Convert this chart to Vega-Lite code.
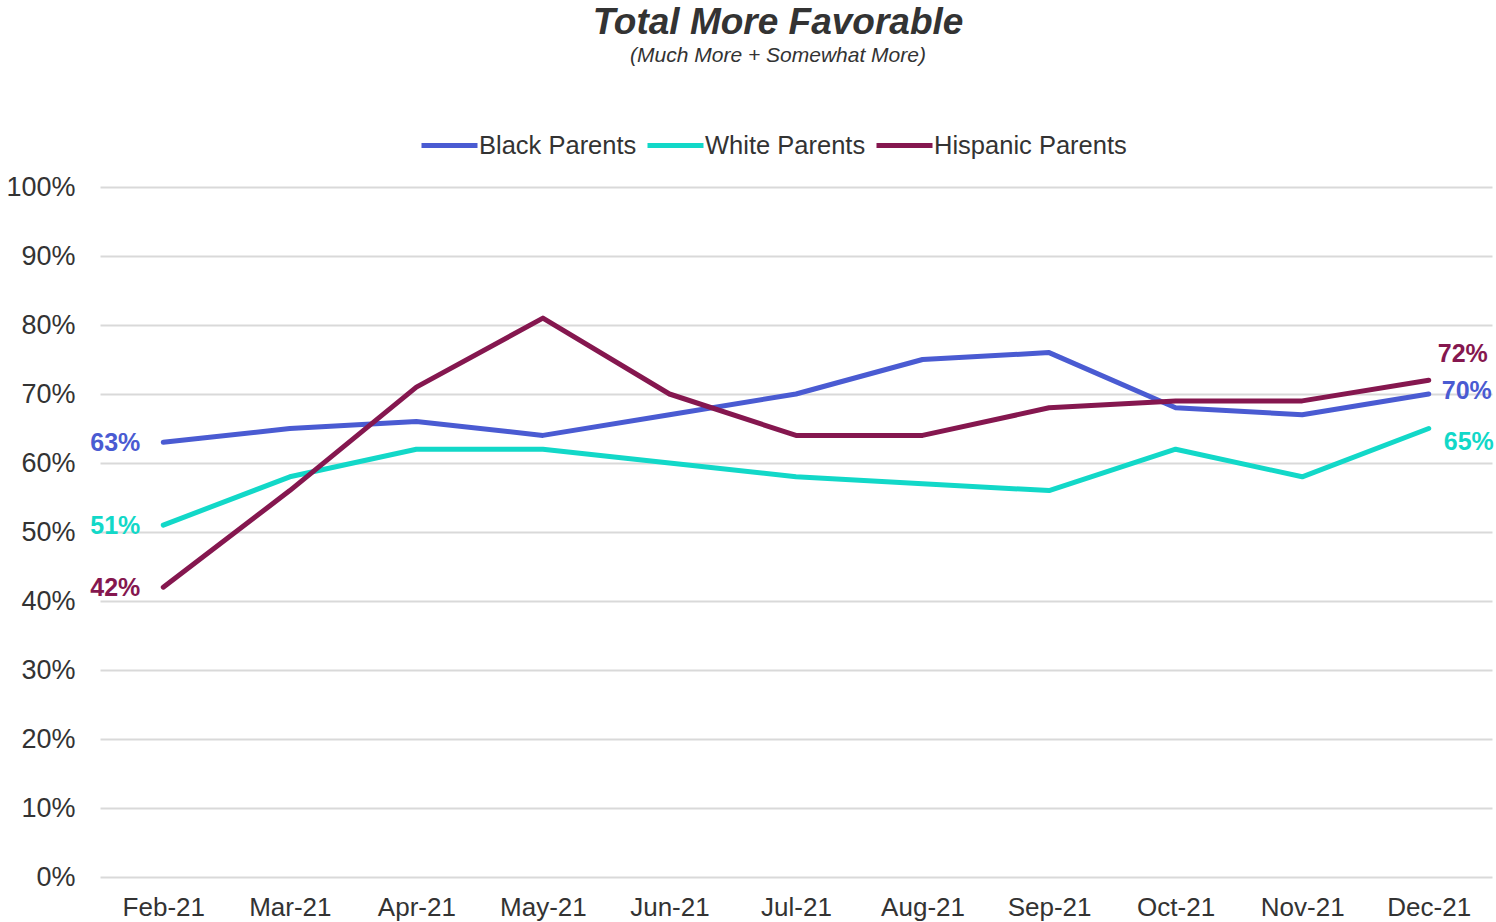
{
  "$schema": "https://vega.github.io/schema/vega-lite/v6.json",
  "width": 1392,
  "height": 690,
  "autosize": {"type": "none"},
  "padding": {"left": 100, "top": 187, "right": 4, "bottom": 45},
  "background": "white",
  "title": {
    "text": "Total More Favorable",
    "subtitle": "(Much More + Somewhat More)",
    "anchor": "middle",
    "frame": "group",
    "dx": -18,
    "offset": 48,
    "font": "Liberation Sans",
    "fontSize": 37,
    "fontWeight": "bold",
    "fontStyle": "italic",
    "color": "#333333",
    "subtitleFont": "Liberation Sans",
    "subtitleFontSize": 21,
    "subtitleFontStyle": "italic",
    "subtitleColor": "#333333",
    "subtitlePadding": 3
  },
  "config": {
    "view": {"stroke": null},
    "font": "Liberation Sans"
  },
  "data": {
    "values": [
      {"month": "Feb-21", "group": "Black Parents", "value": 0.63},
      {"month": "Mar-21", "group": "Black Parents", "value": 0.65},
      {"month": "Apr-21", "group": "Black Parents", "value": 0.66},
      {"month": "May-21", "group": "Black Parents", "value": 0.64},
      {"month": "Jun-21", "group": "Black Parents", "value": 0.67},
      {"month": "Jul-21", "group": "Black Parents", "value": 0.70},
      {"month": "Aug-21", "group": "Black Parents", "value": 0.75},
      {"month": "Sep-21", "group": "Black Parents", "value": 0.76},
      {"month": "Oct-21", "group": "Black Parents", "value": 0.68},
      {"month": "Nov-21", "group": "Black Parents", "value": 0.67},
      {"month": "Dec-21", "group": "Black Parents", "value": 0.70},
      {"month": "Feb-21", "group": "White Parents", "value": 0.51},
      {"month": "Mar-21", "group": "White Parents", "value": 0.58},
      {"month": "Apr-21", "group": "White Parents", "value": 0.62},
      {"month": "May-21", "group": "White Parents", "value": 0.62},
      {"month": "Jun-21", "group": "White Parents", "value": 0.60},
      {"month": "Jul-21", "group": "White Parents", "value": 0.58},
      {"month": "Aug-21", "group": "White Parents", "value": 0.57},
      {"month": "Sep-21", "group": "White Parents", "value": 0.56},
      {"month": "Oct-21", "group": "White Parents", "value": 0.62},
      {"month": "Nov-21", "group": "White Parents", "value": 0.58},
      {"month": "Dec-21", "group": "White Parents", "value": 0.65},
      {"month": "Feb-21", "group": "Hispanic Parents", "value": 0.42},
      {"month": "Mar-21", "group": "Hispanic Parents", "value": 0.56},
      {"month": "Apr-21", "group": "Hispanic Parents", "value": 0.71},
      {"month": "May-21", "group": "Hispanic Parents", "value": 0.81},
      {"month": "Jun-21", "group": "Hispanic Parents", "value": 0.70},
      {"month": "Jul-21", "group": "Hispanic Parents", "value": 0.64},
      {"month": "Aug-21", "group": "Hispanic Parents", "value": 0.64},
      {"month": "Sep-21", "group": "Hispanic Parents", "value": 0.68},
      {"month": "Oct-21", "group": "Hispanic Parents", "value": 0.69},
      {"month": "Nov-21", "group": "Hispanic Parents", "value": 0.69},
      {"month": "Dec-21", "group": "Hispanic Parents", "value": 0.72}
    ]
  },
  "encoding": {
    "x": {
      "field": "month",
      "type": "ordinal",
      "sort": null,
      "scale": {"type": "point", "padding": 0.5},
      "axis": {
        "title": null,
        "labelAngle": 0,
        "labelFontSize": 26,
        "labelColor": "#333333",
        "labelPadding": 17,
        "ticks": false,
        "domain": false,
        "grid": false
      }
    },
    "y": {
      "field": "value",
      "type": "quantitative",
      "scale": {"domain": [0, 1]},
      "axis": {
        "title": null,
        "values": [0, 0.1, 0.2, 0.3, 0.4, 0.5, 0.6, 0.7, 0.8, 0.9, 1],
        "format": ".0%",
        "labelFontSize": 27,
        "labelColor": "#333333",
        "labelPadding": 25,
        "ticks": false,
        "domain": false,
        "grid": true,
        "gridColor": "#d9d9d9",
        "gridWidth": 2
      }
    },
    "color": {
      "field": "group",
      "type": "nominal",
      "sort": ["Black Parents", "White Parents", "Hispanic Parents"],
      "scale": {
        "domain": ["Black Parents", "White Parents", "Hispanic Parents"],
        "range": ["#4a5bd2", "#12d8c8", "#85174f"]
      },
      "legend": {
        "title": null,
        "orient": "none",
        "legendX": 319,
        "legendY": -72,
        "direction": "horizontal",
        "symbolType": "stroke",
        "symbolSize": 3136,
        "symbolStrokeWidth": 5,
        "labelFontSize": 25.5,
        "labelLimit": 400,
        "labelColor": "#333333",
        "labelOffset": -1,
        "columnPadding": 0
      }
    }
  },
  "layer": [
    {
      "mark": {"type": "line", "strokeWidth": 5, "strokeCap": "round", "strokeJoin": "round"}
    },
    {
      "transform": [{"filter": "datum.month == 'Feb-21'"}],
      "mark": {"type": "text", "align": "right", "baseline": "middle", "dx": -23, "dy": 1, "fontSize": 25, "fontWeight": "bold"},
      "encoding": {"text": {"field": "value", "type": "quantitative", "format": ".0%"}}
    },
    {
      "transform": [{"filter": "datum.month == 'Dec-21' && datum.group == 'Hispanic Parents'"}],
      "mark": {"type": "text", "align": "left", "baseline": "middle", "dx": 9, "dy": -26, "fontSize": 25, "fontWeight": "bold"},
      "encoding": {"text": {"field": "value", "type": "quantitative", "format": ".0%"}}
    },
    {
      "transform": [{"filter": "datum.month == 'Dec-21' && datum.group == 'Black Parents'"}],
      "mark": {"type": "text", "align": "left", "baseline": "middle", "dx": 13, "dy": -3, "fontSize": 25, "fontWeight": "bold"},
      "encoding": {"text": {"field": "value", "type": "quantitative", "format": ".0%"}}
    },
    {
      "transform": [{"filter": "datum.month == 'Dec-21' && datum.group == 'White Parents'"}],
      "mark": {"type": "text", "align": "left", "baseline": "middle", "dx": 15, "dy": 13, "fontSize": 25, "fontWeight": "bold"},
      "encoding": {"text": {"field": "value", "type": "quantitative", "format": ".0%"}}
    }
  ]
}
